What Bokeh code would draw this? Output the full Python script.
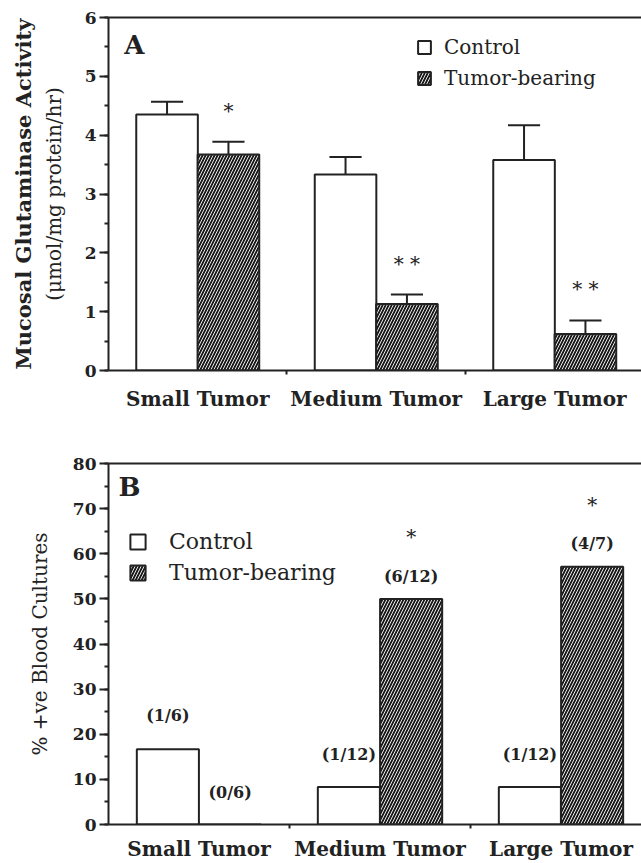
import numpy as np
from bokeh.plotting import figure
from bokeh.models import (LinearAxis, FixedTicker, SingleIntervalTicker, Range1d,
                          Legend, LegendItem, Label)
from bokeh.layouts import column
from bokeh.core.properties import value
from bokeh.embed import file_html
from bokeh.resources import INLINE

# ---------------- data ----------------
categories = ["Small Tumor", "Medium Tumor", "Large Tumor"]
series = ["Control", "Tumor-bearing"]

# Panel A: mucosal glutaminase activity (umol/mg protein/hr), mean and SEM
gls_control = [4.35, 3.33, 3.58]
gls_control_sem = [0.22, 0.30, 0.59]
gls_tumor = [3.67, 1.13, 0.62]
gls_tumor_sem = [0.22, 0.16, 0.23]
gls_tumor_sig = ["*", "* *", "* *"]

# Panel B: positive blood cultures (positive / total)
bc_control_pos = [1, 1, 1]
bc_control_n = [6, 12, 12]
bc_tumor_pos = [0, 6, 4]
bc_tumor_n = [6, 12, 7]
bc_tumor_sig = ["", "*", "*"]

# annotation gaps above the bars (screen px)
bc_control_label_gap = [24, 23, 23]
bc_tumor_label_gap = [23, 13, 14]

# ---------------- style ----------------
FONT = "DejaVu Serif"
INK = "#222222"
OFF = 0.172
CAP = 0.09
HATCH = dict(fill_color="#1a1a1a", hatch_pattern="/", hatch_color="white",
             hatch_scale=6, hatch_weight=0.9)

xc = np.arange(len(categories))


def base_axes(p, y_ticker, ylab_inner, ylab_outer, x_labels, inner_standoff,
              outer_standoff, cat_standoff):
    yax = LinearAxis(ticker=y_ticker, axis_label=ylab_inner)
    yax.axis_line_width = 2
    yax.axis_line_color = INK
    yax.major_tick_line_color = INK
    yax.major_tick_line_width = 2
    yax.minor_tick_line_color = INK
    yax.minor_tick_line_width = 2
    yax.major_tick_out = 9
    yax.major_tick_in = 0
    yax.minor_tick_out = 4
    yax.minor_tick_in = 0
    yax.major_label_standoff = 3
    yax.major_label_text_font = FONT
    yax.major_label_text_font_size = "17px"
    yax.major_label_text_font_style = "bold"
    yax.major_label_text_color = INK
    yax.axis_label_text_font = FONT
    yax.axis_label_text_font_size = "20px"
    yax.axis_label_text_font_style = "normal"
    yax.axis_label_text_color = INK
    yax.axis_label_standoff = inner_standoff
    p.add_layout(yax, "left")

    if ylab_outer:
        yax2 = LinearAxis(ticker=FixedTicker(ticks=[]), axis_label=ylab_outer)
        yax2.axis_line_color = None
        yax2.major_tick_line_color = None
        yax2.minor_tick_line_color = None
        yax2.major_label_standoff = 0
        yax2.major_tick_out = 0
        yax2.minor_tick_out = 0
        yax2.axis_label_standoff = outer_standoff
        yax2.axis_label_text_font = FONT
        yax2.axis_label_text_font_size = "21px"
        yax2.axis_label_text_font_style = "bold"
        yax2.axis_label_text_color = INK
        p.add_layout(yax2, "left")

    # category labels at the centres, small boundary ticks (as minor ticks) between
    xax = LinearAxis(ticker=FixedTicker(ticks=list(xc), minor_ticks=[0.5, 1.5]),
                     major_label_overrides={int(i): c for i, c in enumerate(x_labels)})
    xax.axis_line_width = 2
    xax.axis_line_color = INK
    xax.major_tick_line_color = None
    xax.major_tick_out = 0
    xax.major_tick_in = 0
    xax.minor_tick_line_color = INK
    xax.minor_tick_line_width = 2
    xax.minor_tick_out = 4
    xax.minor_tick_in = 0
    xax.major_label_standoff = cat_standoff
    xax.major_label_text_font = FONT
    xax.major_label_text_font_size = "20px"
    xax.major_label_text_font_style = "bold"
    xax.major_label_text_color = INK
    p.add_layout(xax, "below")

    top = LinearAxis(ticker=FixedTicker(ticks=[]))
    top.axis_line_width = 2
    top.axis_line_color = INK
    top.major_tick_out = 0
    top.minor_tick_out = 0
    top.major_label_standoff = 0
    p.add_layout(top, "above")


# ---------------- Panel A ----------------
pA = figure(width=641, height=420, x_range=Range1d(-0.5, -0.5 + 536 / 179.5),
            y_range=Range1d(0, 6), x_axis_type=None, y_axis_type=None,
            output_backend="svg", toolbar_location=None,
            min_border_left=105, min_border_right=0, min_border_top=17, min_border_bottom=50,
            outline_line_color=None, background_fill_color="white",
            border_fill_color="white")

bw = 0.345
rcA = pA.vbar(x=xc - OFF, top=gls_control, width=bw, bottom=0, fill_color="white",
              line_color=INK, line_width=2)
rtA = pA.vbar(x=xc + OFF, top=gls_tumor, width=bw, bottom=0,
              line_color=INK, line_width=2, **HATCH)

for xs, m, s in [(xc - OFF, gls_control, gls_control_sem),
                 (xc + OFF, gls_tumor, gls_tumor_sem)]:
    m = np.array(m)
    t = m + np.array(s)
    pA.segment(x0=xs, y0=m, x1=xs, y1=t, line_color=INK, line_width=2)
    pA.segment(x0=xs - CAP, y0=t, x1=xs + CAP, y1=t, line_color=INK, line_width=2)

pA.text(x=xc + OFF, y=np.array(gls_tumor) + np.array(gls_tumor_sem), text=gls_tumor_sig,
        y_offset=-31, text_align="center", text_baseline="alphabetic",
        text_font=value(FONT), text_font_size="20px", text_color=INK)

pA.add_layout(Label(x=-0.355, y=5.54, text="A", text_align="center", text_baseline="middle",
                    text_font=FONT, text_font_size="26px", text_font_style="bold",
                    text_color=INK))

legA = Legend(items=[LegendItem(label=series[0], renderers=[rcA]),
                     LegendItem(label=series[1], renderers=[rtA])],
              location=(308, 280), glyph_width=16, glyph_height=16, label_standoff=12,
              label_text_font=FONT, label_text_font_size="20px", label_text_color=INK,
              padding=0, margin=0, spacing=7, border_line_color=None,
              background_fill_alpha=0)
pA.add_layout(legA)

base_axes(pA, SingleIntervalTicker(interval=1, num_minor_ticks=2),
          "(μmol/mg protein/hr)", "Mucosal Glutaminase Activity", categories,
          16, 3, 12)

# ---------------- Panel B ----------------
ctrl_pct = [100.0 * a / b for a, b in zip(bc_control_pos, bc_control_n)]
tum_pct = [100.0 * a / b for a, b in zip(bc_tumor_pos, bc_tumor_n)]

pB = figure(width=641, height=443, x_range=Range1d(-0.5, -0.5 + 533 / 181),
            y_range=Range1d(0, 80), x_axis_type=None, y_axis_type=None,
            output_backend="svg", toolbar_location=None,
            min_border_left=108, min_border_right=0, min_border_top=43, min_border_bottom=37,
            outline_line_color=None, background_fill_color="white",
            border_fill_color="white")

bwB = 0.343
rcB = pB.vbar(x=xc - OFF, top=ctrl_pct, width=bwB, bottom=0, fill_color="white",
              line_color=INK, line_width=2)
rtB = pB.vbar(x=xc + OFF, top=tum_pct, width=bwB, bottom=0,
              line_color=INK, line_width=2, **HATCH)

ctrl_txt = [f"({a}/{b})" for a, b in zip(bc_control_pos, bc_control_n)]
tum_txt = [f"({a}/{b})" for a, b in zip(bc_tumor_pos, bc_tumor_n)]
pB.text(x=xc - OFF, y=ctrl_pct, text=ctrl_txt, y_offset=[-g for g in bc_control_label_gap],
        text_align="center", text_baseline="bottom", text_font=value(FONT),
        text_font_size="16px", text_font_style="bold", text_color=INK)
pB.text(x=xc + OFF, y=tum_pct, text=tum_txt, y_offset=[-g for g in bc_tumor_label_gap],
        text_align="center", text_baseline="bottom", text_font=value(FONT),
        text_font_size="16px", text_font_style="bold", text_color=INK)

sig_idx = [i for i, s in enumerate(bc_tumor_sig) if s]
pB.text(x=[xc[i] + OFF for i in sig_idx], y=[tum_pct[i] for i in sig_idx],
        text=[bc_tumor_sig[i] for i in sig_idx], y_offset=-62,
        text_align="center", text_baseline="alphabetic", text_font=value(FONT),
        text_font_size="20px", text_color=INK)

pB.add_layout(Label(x=-0.384, y=74.7, text="B", text_align="center", text_baseline="middle",
                    text_font=FONT, text_font_size="26px", text_font_style="bold",
                    text_color=INK))

legB = Legend(items=[LegendItem(label=series[0], renderers=[rcB]),
                     LegendItem(label=series[1], renderers=[rtB])],
              location=(20, 239), glyph_width=19, glyph_height=19, label_standoff=22,
              label_text_font=FONT, label_text_font_size="22px", label_text_color=INK,
              padding=0, margin=0, spacing=6, border_line_color=None,
              background_fill_alpha=0)
pB.add_layout(legB)

base_axes(pB, SingleIntervalTicker(interval=10, num_minor_ticks=2),
          "% +ve Blood Cultures", None, categories, 18, 0, 8)

layout = column(pA, pB, spacing=0)
open("out.html", "w").write(file_html(layout, INLINE))
